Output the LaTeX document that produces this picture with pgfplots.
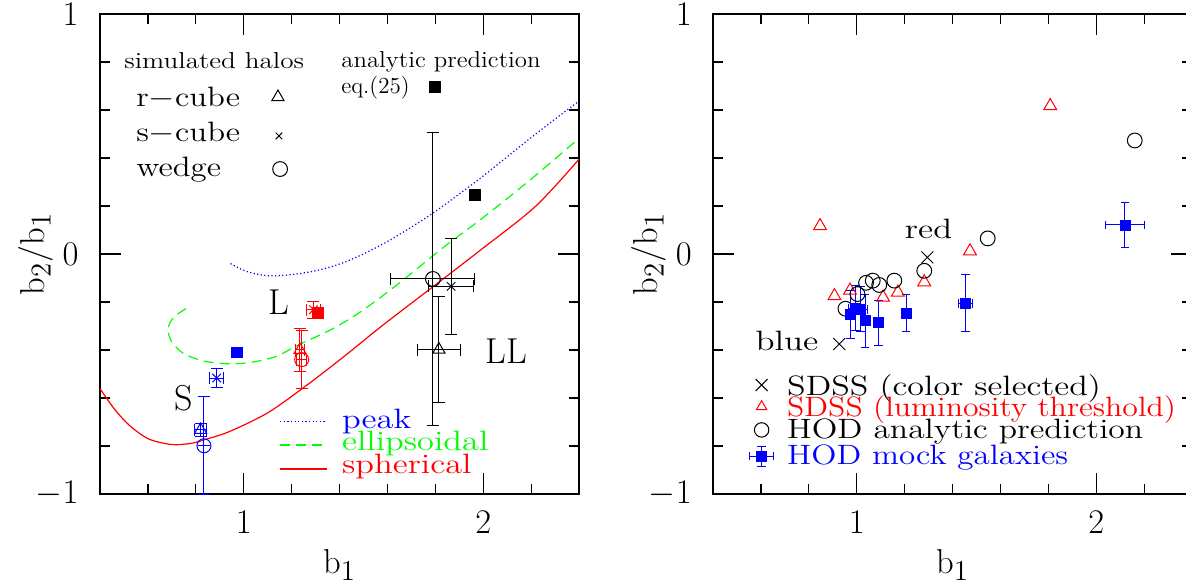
\documentclass[border=0pt]{standalone}
\usepackage{graphicx}
\usepackage{pgfplots}
\pgfplotsset{compat=1.18}
\definecolor{pblue}{rgb}{0,0,1}
\definecolor{pred}{rgb}{1,0,0}
\definecolor{pgreen}{rgb}{0,1,0}
\newcommand\fsS{\fontsize{11.5}{13}\selectfont}
\newcommand\fsM{\fontsize{14}{16}\selectfont}
\newcommand\fsL{\fontsize{18}{21}\selectfont}
\newcommand\wx[2]{\scalebox{#1}[1]{#2}}
\pgfplotsset{
  panel/.style={
    scale only axis, width=239.5pt, height=240pt,
    xmin=0.4, xmax=2.4, ymin=-1, ymax=1,
    xtick={1,2}, ytick={-1,0,1},
    minor xtick={0.6,0.8,1.2,1.4,1.6,1.8,2.2},
    minor ytick={-0.8,-0.6,-0.4,-0.2,0.2,0.4,0.6,0.8},
    tick align=inside,
    major tick length=10.5pt, minor tick length=5pt,
    every tick/.style={black, line width=0.6pt},
    axis line style={line width=1pt},
    tick label style={font=\fontsize{16}{19}\selectfont, inner sep=0pt},
    xticklabel style={yshift=-8.5pt},
    yticklabel style={xshift=-10.5pt},
    xlabel={$\mathrm{b}_1$}, ylabel={$\mathrm{b}_2/\mathrm{b}_1$},
    label style={font=\fontsize{19}{22}\selectfont},
    xlabel style={at={(axis description cs:0.5,-0.1654)}, anchor=base},
    ylabel style={at={(axis description cs:-0.1169,0.5)}, anchor=base},
  },
  eb/.style={error bars/.cd, x dir=both, x explicit, y dir=both, y explicit,
    error bar style={line width=0.5pt},
    error mark options={rotate=90, mark size=3pt, line width=0.5pt}},
}
\begin{document}
\begin{tikzpicture}
% ---------------- left panel ----------------
\begin{axis}[panel, at={(50pt,44.5pt)}, anchor=south west]
% peak (dotted blue)
\addplot[pblue, line width=0.6pt, dash pattern=on 0.6pt off 1.2pt, smooth] coordinates {
(0.945,-0.040) (1.000,-0.068) (1.060,-0.085) (1.120,-0.091) (1.200,-0.086)
(1.300,-0.070) (1.400,-0.042) (1.500,0.000) (1.600,0.052) (1.700,0.112)
(1.790,0.170) (1.900,0.250) (2.000,0.325) (2.100,0.405) (2.200,0.485)
(2.300,0.562) (2.400,0.637)};
% ellipsoidal (dashed green)
\addplot[pgreen, line width=0.6pt, dash pattern=on 5pt off 3pt, smooth] coordinates {
(0.759,-0.228) (0.716,-0.256) (0.692,-0.287) (0.684,-0.321) (0.700,-0.367)
(0.748,-0.414) (0.828,-0.445) (0.924,-0.457) (1.020,-0.453) (1.132,-0.428)
(1.228,-0.379) (1.355,-0.320) (1.467,-0.255) (1.579,-0.175) (1.666,-0.108)
(1.750,-0.040) (1.850,0.040) (2.000,0.152) (2.200,0.312) (2.400,0.482)};
% spherical (solid red)
\addplot[pred, line width=0.6pt, smooth] coordinates {
(0.400,-0.561) (0.461,-0.647) (0.525,-0.716) (0.604,-0.771) (0.700,-0.794)
(0.780,-0.789) (0.836,-0.774) (0.940,-0.740) (1.100,-0.662) (1.259,-0.550)
(1.419,-0.427) (1.579,-0.298) (1.779,-0.145) (1.978,0.008) (2.218,0.198)
(2.400,0.395)};
% ---- LL (black) ----
\addplot[black, only marks, mark=o, mark size=3.7pt, line width=0.5pt, eb]
  coordinates {(1.790,-0.104) +- (0.175,0.610)};
\addplot[black, only marks, mark=x, mark size=3pt, line width=0.5pt, eb]
  coordinates {(1.866,-0.135) +- (0.095,0.200)};
\addplot[black, only marks, mark=triangle, mark size=3.5pt, line width=0.5pt, eb]
  coordinates {(1.815,-0.398) +- (0.090,0.220)};
\addplot[black, only marks, mark=square*, mark size=2.7pt]
  coordinates {(1.966,0.245)};
% ---- L (red) ----
\addplot[pred, only marks, mark=x, mark size=3pt, line width=0.5pt, eb]
  coordinates {(1.291,-0.232) +- (0.030,0.035)};
\addplot[pred, only marks, mark=square*, mark size=2.7pt]
  coordinates {(1.309,-0.247)};
\addplot[pred, only marks, mark=triangle, mark size=3.5pt, line width=0.5pt, eb]
  coordinates {(1.235,-0.400) +- (0.020,0.090)};
\addplot[pred, only marks, mark=o, mark size=3.5pt, line width=0.5pt, eb]
  coordinates {(1.242,-0.440) +- (0.020,0.120)};
% ---- S (blue) ----
\addplot[pblue, only marks, mark=square*, mark size=2.7pt]
  coordinates {(0.971,-0.410)};
\addplot[pblue, only marks, mark=x, mark size=3pt, line width=0.5pt, eb]
  coordinates {(0.887,-0.517) +- (0.028,0.038)};
\addplot[pblue, only marks, mark=triangle, mark size=3.5pt, line width=0.5pt, eb]
  coordinates {(0.820,-0.733) +- (0.024,0.028)};
\addplot[pblue, only marks, mark=o, mark size=3.5pt, line width=0.5pt, eb]
  coordinates {(0.834,-0.799) +- (0.000,0.205)};
% ---- legend symbols ----
\addplot[black, only marks, mark=triangle, mark size=3.5pt, line width=0.5pt] coordinates {(1.143,0.654)};
\addplot[black, only marks, mark=x, mark size=2.3pt, line width=0.5pt] coordinates {(1.147,0.492)};
\addplot[black, only marks, mark=o, mark size=3.7pt, line width=0.5pt] coordinates {(1.152,0.354)};
\addplot[black, only marks, mark=square*, mark size=2.7pt] coordinates {(1.799,0.696)};
\addplot[pblue, line width=0.6pt, dash pattern=on 0.6pt off 1.2pt] coordinates {(1.152,-0.699) (1.346,-0.699)};
\addplot[pgreen, line width=0.6pt, dash pattern=on 5pt off 3pt] coordinates {(1.152,-0.796) (1.346,-0.796)};
\addplot[pred, line width=0.6pt] coordinates {(1.152,-0.896) (1.346,-0.896)};
% ---- texts ----
\node[anchor=base west, inner sep=0pt, font=\fsS] at (axis cs:0.500,0.774) {\wx{1.18}{simulated halos}};
\node[anchor=base west, inner sep=0pt, font=\fsM] at (axis cs:0.550,0.614) {\wx{1.17}{r$-$cube}};
\node[anchor=base west, inner sep=0pt, font=\fsM] at (axis cs:0.550,0.468) {\wx{1.17}{s$-$cube}};
\node[anchor=base west, inner sep=0pt, font=\fsM] at (axis cs:0.550,0.322) {\wx{1.17}{wedge}};
\node[anchor=base west, inner sep=0pt, font=\fsS] at (axis cs:1.406,0.778) {\wx{1.08}{analytic prediction}};
\node[anchor=base west, inner sep=0pt, font=\fsS] at (axis cs:1.406,0.670) {eq.(25)};
\node[anchor=base, inner sep=0pt, font=\fsL] at (axis cs:1.147,-0.254) {L};
\node[anchor=base, inner sep=0pt, font=\fsL] at (axis cs:2.097,-0.457) {LL};
\node[anchor=base, inner sep=0pt, font=\fsL] at (axis cs:0.751,-0.653) {S};
\node[anchor=base west, inner sep=0pt, font=\fsM, text=pblue] at (axis cs:1.409,-0.726) {\wx{1.23}{peak}};
\node[anchor=base west, inner sep=0pt, font=\fsM, text=pgreen] at (axis cs:1.409,-0.817) {\wx{1.23}{ellipsoidal}};
\node[anchor=base west, inner sep=0pt, font=\fsM, text=pred] at (axis cs:1.409,-0.914) {\wx{1.23}{spherical}};
\end{axis}
% ---------------- right panel ----------------
\begin{axis}[panel, at={(356.5pt,44.5pt)}, anchor=south west]
% SDSS luminosity threshold (red triangles)
\addplot[pred, only marks, mark=triangle, mark size=3.7pt, line width=0.5pt] coordinates {
(1.808,0.617) (0.847,0.117) (1.473,0.012) (1.282,-0.117) (1.172,-0.160)
(1.110,-0.181) (0.907,-0.175) (0.972,-0.152)};
% HOD analytic prediction (black circles)
\addplot[black, only marks, mark=o, mark size=3.7pt, line width=0.5pt] coordinates {
(2.161,0.473) (1.547,0.065) (1.282,-0.070) (1.157,-0.111) (1.094,-0.129)
(1.067,-0.111) (1.039,-0.120) (1.003,-0.167) (0.953,-0.228)};
% SDSS color selected (black x)
\addplot[black, only marks, mark=x, mark size=4.2pt, line width=0.5pt] coordinates {
(1.295,-0.014) (0.927,-0.375)};
% HOD mock galaxies (blue squares)
\addplot[pblue, only marks, mark=square*, mark size=2.5pt, eb,
  error mark options={rotate=90, mark size=2.2pt, line width=0.5pt}] coordinates {
(2.120,0.121) +- (0.080,0.094)
(1.455,-0.205) +- (0.030,0.118)
(1.206,-0.246) +- (0.000,0.076)
(1.090,-0.286) +- (0.000,0.094)
(1.035,-0.278) +- (0.020,0.110)
(1.016,-0.230) +- (0.030,0.094)
(0.995,-0.226) +- (0.030,0.094)
(0.974,-0.252) +- (0.020,0.100)};
% legend symbols
\addplot[black, only marks, mark=x, mark size=4.2pt, line width=0.5pt] coordinates {(0.603,-0.546)};
\addplot[pred, only marks, mark=triangle, mark size=3pt, line width=0.5pt] coordinates {(0.603,-0.636)};
\addplot[black, only marks, mark=o, mark size=3.6pt, line width=0.5pt] coordinates {(0.603,-0.733)};
\addplot[pblue, only marks, mark=square*, mark size=2.5pt, eb,
  error mark options={rotate=90, mark size=2.2pt, line width=0.5pt}] coordinates {(0.603,-0.842) +- (0.050,0.042)};
% texts
\node[anchor=base, inner sep=0pt, font=\fsM] at (axis cs:1.300,0.065) {\wx{1.24}{red}};
\node[anchor=base east, inner sep=0pt, font=\fsM] at (axis cs:0.842,-0.403) {\wx{1.25}{blue}};
\node[anchor=base west, inner sep=0pt, font=\fsM] at (axis cs:0.708,-0.588) {\wx{1.22}{SDSS (color selected)}};
\node[anchor=base west, inner sep=0pt, font=\fsM, text=pred] at (axis cs:0.708,-0.679) {\wx{1.135}{SDSS (luminosity threshold)}};
\node[anchor=base west, inner sep=0pt, font=\fsM] at (axis cs:0.708,-0.769) {\wx{1.2}{HOD analytic prediction}};
\node[anchor=base west, inner sep=0pt, font=\fsM, text=pblue] at (axis cs:0.708,-0.878) {\wx{1.18}{HOD mock galaxies}};
\end{axis}
\pgfresetboundingbox
\path[use as bounding box] (0,0) rectangle (593pt,291.5pt);
\end{tikzpicture}
\end{document}
